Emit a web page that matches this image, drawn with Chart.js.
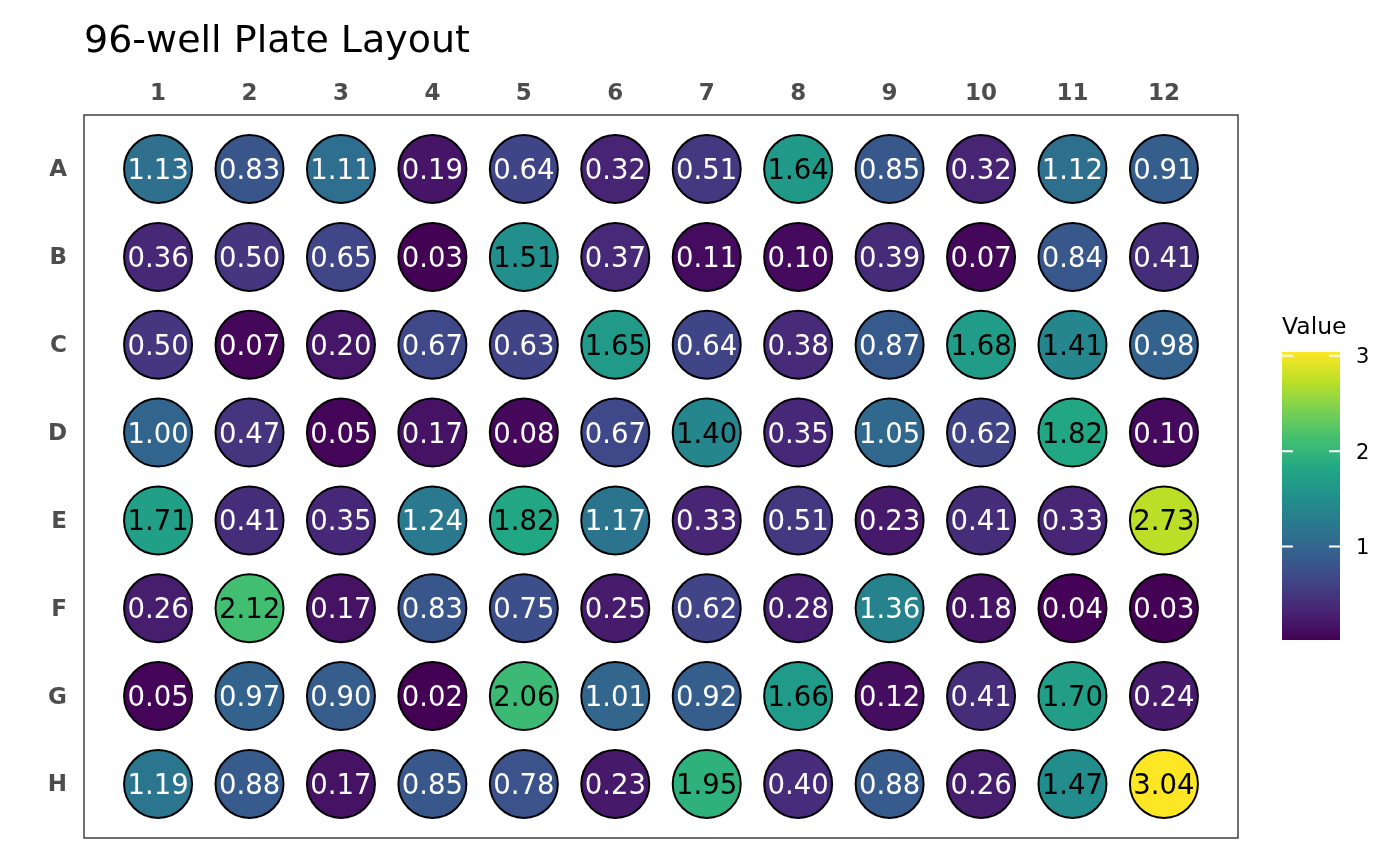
<!DOCTYPE html>
<html>
<head>
<meta charset="utf-8">
<script src="https://cdn.jsdelivr.net/npm/chart.js@4/dist/chart.umd.min.js"></script>
<style>
html,body{margin:0;padding:0;background:#ffffff;}
#wrap{width:1400px;height:866px;position:relative;}
</style>
</head>
<body>
<div id="wrap"><canvas id="c" width="1400" height="866"></canvas></div>
<script>
// ---- data ----
const rowLabels = ["A","B","C","D","E","F","G","H"];
const colLabels = ["1","2","3","4","5","6","7","8","9","10","11","12"];
const rowA = [1.13,0.83,1.11,0.19,0.64,0.32,0.51,1.64,0.85,0.32,1.12,0.91];
const rowB = [0.36,0.50,0.65,0.03,1.51,0.37,0.11,0.10,0.39,0.07,0.84,0.41];
const rowC = [0.50,0.07,0.20,0.67,0.63,1.65,0.64,0.38,0.87,1.68,1.41,0.98];
const rowD = [1.00,0.47,0.05,0.17,0.08,0.67,1.40,0.35,1.05,0.62,1.82,0.10];
const rowE = [1.71,0.41,0.35,1.24,1.82,1.17,0.33,0.51,0.23,0.41,0.33,2.73];
const rowF = [0.26,2.12,0.17,0.83,0.75,0.25,0.62,0.28,1.36,0.18,0.04,0.03];
const rowG = [0.05,0.97,0.90,0.02,2.06,1.01,0.92,1.66,0.12,0.41,1.70,0.24];
const rowH = [1.19,0.88,0.17,0.85,0.78,0.23,1.95,0.40,0.88,0.26,1.47,3.04];
const legendTicks = [1,2,3];
const legendTitle = "Value";
const chartTitle = "96-well Plate Layout";

const rows = [rowA,rowB,rowC,rowD,rowE,rowF,rowG,rowH];
const allVals = rows.flat();
const vMin = Math.min(...allVals), vMax = Math.max(...allVals);

// viridis colour map
const VIR = ["#440154","#482475","#414487","#355f8d","#2a788e","#21918c","#22a884","#44bf70","#7ad151","#bddf26","#fde725"];
function hex2rgb(h){return [parseInt(h.substr(1,2),16),parseInt(h.substr(3,2),16),parseInt(h.substr(5,2),16)];}
const VIRRGB = VIR.map(hex2rgb);
function viridis(t){
  t=Math.max(0,Math.min(1,t));
  const p=t*(VIRRGB.length-1); const i=Math.min(Math.floor(p),VIRRGB.length-2); const f=p-i;
  const a=VIRRGB[i], b=VIRRGB[i+1];
  return "rgb("+a.map((v,k)=>Math.round(v+(b[k]-v)*f)).join(",")+")";
}
function colorFor(v){return viridis((v-vMin)/(vMax-vMin));}

const points = [];
rows.forEach((r,ri)=>r.forEach((v,ci)=>points.push({x:ci+1,y:ri+1,v:v})));

const FONT = "'DejaVu Sans', sans-serif";

const panelBorder = {
  id:'panelBorder',
  afterDraw(chart){
    const {ctx, chartArea:a} = chart;
    ctx.save();
    ctx.strokeStyle="#333333"; ctx.lineWidth=1.4;
    ctx.strokeRect(a.left, a.top, a.right-a.left, a.bottom-a.top);
    ctx.restore();
  }
};

const cellLabels = {
  id:'cellLabels',
  afterDatasetsDraw(chart){
    const ctx=chart.ctx; const meta=chart.getDatasetMeta(0);
    ctx.save();
    ctx.font="27.5px "+FONT; ctx.textAlign="center"; ctx.textBaseline="alphabetic";
    meta.data.forEach((el,i)=>{
      const v=points[i].v;
      ctx.fillStyle = v>1.38 ? "#000000" : "#ffffff";
      ctx.fillText(v.toFixed(2), el.x, el.y+10);
    });
    ctx.restore();
  }
};

const colorBar = {
  id:'colorBar',
  afterDraw(chart){
    const ctx=chart.ctx;
    const x0=1282, x1=1340, yTop=352, yBot=640;
    const g=ctx.createLinearGradient(0,yBot,0,yTop);
    for(let k=0;k<=20;k++){g.addColorStop(k/20, viridis(k/20));}
    ctx.save();
    ctx.fillStyle=g; ctx.fillRect(x0,yTop,x1-x0,yBot-yTop);
    const yOf=v=>yBot-(v-vMin)/(vMax-vMin)*(yBot-yTop);
    ctx.strokeStyle="#ffffff"; ctx.lineWidth=2;
    ctx.fillStyle="#000000"; ctx.font="21px "+FONT; ctx.textAlign="left"; ctx.textBaseline="alphabetic";
    legendTicks.forEach(t=>{
      const y=yOf(t);
      ctx.beginPath();
      ctx.moveTo(x0,y); ctx.lineTo(x0+11,y);
      ctx.moveTo(x1-11,y); ctx.lineTo(x1,y);
      ctx.stroke();
      ctx.fillText(String(t), 1356, y+7.5);
    });
    ctx.font="23.5px "+FONT;
    ctx.fillText(legendTitle, 1282, 334);
    ctx.restore();
  }
};

new Chart(document.getElementById('c'),{
  type:'scatter',
  data:{datasets:[{
    data:points,
    backgroundColor:points.map(p=>colorFor(p.v)),
    borderColor:"#000000",
    borderWidth:2,
    pointRadius:34,
    pointHoverRadius:34
  }]},
  options:{
    responsive:false,
    animation:false,
    events:[],
    layout:{autoPadding:false, padding:{left:0,right:162,top:0,bottom:28}},
    plugins:{
      legend:{display:false},
      tooltip:{enabled:false},
      title:{
        display:true, text:chartTitle, align:'start', fullSize:false,
        color:"#000000", font:{family:FONT,size:38,weight:'normal',lineHeight:1.2},
        padding:{top:19,bottom:0}
      }
    },
    scales:{
      x:{
        type:'linear', position:'top', min:0.19, max:12.81,
        grid:{display:false, drawTicks:false}, border:{display:false},
        afterBuildTicks(s){s.ticks=colLabels.map((_,i)=>({value:i+1}));},
        afterFit(s){s.height=50.4; s.paddingLeft=0; s.paddingRight=0;},
        ticks:{
          padding:7, color:"#4d4d4d", maxRotation:0, autoSkip:false,
          font:{family:FONT,size:23,weight:'bold'},
          callback:(v)=>colLabels[Math.round(v)-1]
        }
      },
      y:{
        type:'linear', position:'left', reverse:true, min:0.385, max:8.615,
        grid:{display:false, drawTicks:false}, border:{display:false},
        afterBuildTicks(s){s.ticks=rowLabels.map((_,i)=>({value:i+1}));},
        afterFit(s){s.width=84; s.paddingTop=0; s.paddingBottom=0;},
        ticks:{
          padding:17, color:"#4d4d4d", autoSkip:false, labelOffset:1.5,
          font:{family:FONT,size:23,weight:'bold'},
          callback:(v)=>rowLabels[Math.round(v)-1]
        }
      }
    }
  },
  plugins:[panelBorder,cellLabels,colorBar]
});
</script>
</body>
</html>
